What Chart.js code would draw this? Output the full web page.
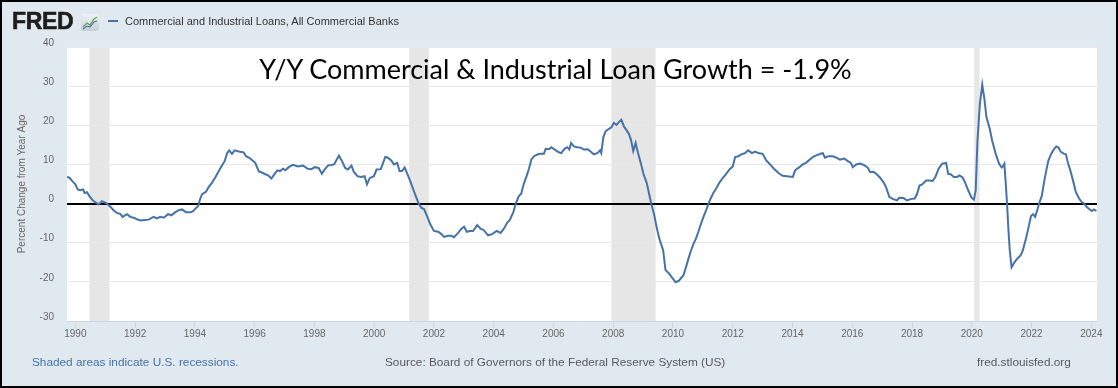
<!DOCTYPE html>
<html lang="en">
<head>
<meta charset="UTF-8">
<title>Commercial and Industrial Loans, All Commercial Banks</title>
<script src="https://cdn.jsdelivr.net/npm/chart.js"></script>
<style>
  body { margin: 0; }
  .frame { position: relative; width: 1118px; height: 388px; background: #e1e9f0; overflow: hidden;
           font-family: "Liberation Sans", Arial, sans-serif; }
  .frame canvas { position: absolute; left: 0; top: 0; }
  .border { position: absolute; left: 0; top: 0; width: 1118px; height: 388px; box-sizing: border-box;
            border: 2px solid #000; pointer-events: none; }
  .logo { position: absolute; left: 12px; top: 10px; font-size: 23px; line-height: 23px; font-weight: bold;
          color: #1d1d1b; letter-spacing: -0.3px; -webkit-text-stroke: 0.6px #1d1d1b; }
  .icon { position: absolute; left: 81px; top: 14px; }
  .legend-line { position: absolute; left: 108px; top: 20px; width: 10px; height: 2px; background: #4572a7; }
  .legend-text { position: absolute; left: 125px; top: 15px; font-size: 11px; line-height: 13px; color: #333; }
  .headline { position: absolute; left: 0; top: 55px; width: 1111px; text-align: center;
              font-family: Lato, "Open Sans", sans-serif; font-size: 27px; line-height: 27px; color: #000; }
  .foot { position: absolute; top: 355px; font-size: 11.8px; line-height: 14px; color: #595959; }
</style>
</head>
<body>
<div class="frame">
  <canvas id="loanChart" width="1118" height="388"></canvas>
  <div class="logo">FRED</div>
  <svg class="icon" width="18" height="17" viewBox="0 0 18 17">
    <defs>
      <linearGradient id="ig" x1="0" y1="0" x2="0" y2="1">
        <stop offset="0" stop-color="#eef1f4"/>
        <stop offset="1" stop-color="#c5ced8"/>
      </linearGradient>
    </defs>
    <rect x="0" y="0" width="18" height="17" rx="2" fill="url(#ig)"/>
    <polyline points="2,13 6,9 9,11 13,5 16,3" fill="none" stroke="#6aa84f" stroke-width="1.3"/>
    <polyline points="2,15 6,12 9,13 13,8 16,7" fill="none" stroke="#4572a7" stroke-width="1.1"/>
  </svg>
  <div class="legend-line"></div>
  <div class="legend-text">Commercial and Industrial Loans, All Commercial Banks</div>
  <div class="headline">Y/Y Commercial &amp; Industrial Loan Growth = -1.9%</div>
  <div class="foot" style="left:32px; color:#4572a7;">Shaded areas indicate U.S. recessions.</div>
  <div class="foot" style="left:385px;">Source: Board of Governors of the Federal Reserve System (US)</div>
  <div class="foot" style="left:977px;">fred.stlouisfed.org</div>
  <div class="border"></div>
</div>

<script>
// Percent change from year ago (decimal year -> %)
const years = [
  1989.72, 1989.80, 1989.89, 1990.00, 1990.08, 1990.17, 1990.26, 1990.31, 1990.39, 1990.47,
  1990.56, 1990.67, 1990.78, 1990.89, 1990.98, 1991.06, 1991.17, 1991.28, 1991.39, 1991.51,
  1991.58, 1991.73, 1991.84, 1991.95, 1992.06, 1992.18, 1992.32, 1992.45, 1992.62, 1992.73,
  1992.84, 1992.96, 1993.10, 1993.21, 1993.35, 1993.46, 1993.57, 1993.70, 1993.85, 1993.93,
  1994.02, 1994.11, 1994.18, 1994.24, 1994.37, 1994.46, 1994.57, 1994.69, 1994.80, 1994.91,
  1995.00, 1995.08, 1995.15, 1995.24, 1995.33, 1995.47, 1995.63, 1995.71, 1995.82, 1995.93,
  1996.02, 1996.14, 1996.22, 1996.36,
  1996.45, 1996.56, 1996.67, 1996.76, 1996.85, 1996.95, 1997.03, 1997.14, 1997.28, 1997.45,
  1997.62, 1997.78, 1997.90, 1998.01, 1998.14, 1998.25, 1998.34, 1998.45, 1998.66, 1998.73,
  1998.82, 1998.92, 1999.03, 1999.12, 1999.24, 1999.32, 1999.44, 1999.55, 1999.68, 1999.76,
  1999.85, 1999.99, 2000.08, 2000.22, 2000.29, 2000.37, 2000.46, 2000.57, 2000.66, 2000.77,
  2000.85, 2000.93, 2001.02, 2001.11, 2001.22, 2001.31, 2001.41, 2001.49, 2001.58, 2001.67,
  2001.78, 2001.89, 2002.00, 2002.14, 2002.25, 2002.34, 2002.47, 2002.58, 2002.67, 2002.81,
  2002.92, 2003.01, 2003.10, 2003.20, 2003.31,
  2003.45, 2003.56, 2003.67, 2003.81, 2003.95, 2004.10, 2004.23, 2004.34, 2004.45, 2004.54,
  2004.66, 2004.74, 2004.84, 2004.92, 2005.01, 2005.10, 2005.18, 2005.26, 2005.35, 2005.48,
  2005.57, 2005.68, 2005.74, 2005.85, 2005.93, 2006.04, 2006.18, 2006.26, 2006.37, 2006.46,
  2006.53, 2006.59, 2006.68, 2006.79, 2006.91, 2007.02, 2007.15, 2007.26, 2007.35, 2007.47,
  2007.56, 2007.60, 2007.67, 2007.75, 2007.86, 2007.94, 2008.02, 2008.11, 2008.19, 2008.27,
  2008.36, 2008.45, 2008.53, 2008.60, 2008.67, 2008.75, 2008.83, 2008.92, 2009.01, 2009.12,
  2009.20, 2009.27, 2009.36, 2009.45, 2009.54, 2009.67, 2009.75, 2009.86, 2009.97, 2010.09,
  2010.20,
  2010.35, 2010.44, 2010.52, 2010.59, 2010.68, 2010.77, 2010.85, 2010.93, 2011.02, 2011.11,
  2011.19, 2011.26, 2011.35, 2011.44, 2011.55, 2011.67, 2011.78, 2011.89, 2012.00, 2012.08,
  2012.19, 2012.30, 2012.41, 2012.52, 2012.64, 2012.75, 2012.86, 2013.00, 2013.12, 2013.25,
  2013.38, 2013.53, 2013.67, 2013.81, 2014.01, 2014.09, 2014.23, 2014.34, 2014.45, 2014.57,
  2014.68, 2014.79, 2014.90, 2015.01, 2015.09, 2015.20, 2015.35, 2015.48, 2015.59, 2015.73,
  2015.84, 2015.95, 2016.02, 2016.13, 2016.26, 2016.40, 2016.51, 2016.60, 2016.71, 2016.82,
  2016.93, 2017.04, 2017.13,
  2017.24, 2017.35, 2017.50, 2017.57, 2017.72, 2017.83, 2017.98, 2018.09, 2018.17, 2018.25,
  2018.34, 2018.47, 2018.58, 2018.69, 2018.78, 2018.89, 2019.01, 2019.14, 2019.21, 2019.29,
  2019.40, 2019.51, 2019.59, 2019.70, 2019.79, 2019.88, 2019.99, 2020.07, 2020.13, 2020.19,
  2020.27, 2020.35, 2020.42, 2020.49, 2020.60, 2020.68, 2020.80, 2020.91, 2021.00, 2021.04,
  2021.09, 2021.13, 2021.18, 2021.22, 2021.27, 2021.33, 2021.42, 2021.52, 2021.64, 2021.71,
  2021.80, 2021.89, 2021.98, 2022.05, 2022.12, 2022.19, 2022.27, 2022.34, 2022.41, 2022.47,
  2022.56, 2022.65, 2022.75, 2022.83, 2022.90, 2022.98, 2023.09, 2023.15, 2023.21, 2023.31,
  2023.39, 2023.48, 2023.59, 2023.68, 2023.76, 2023.84, 2023.95, 2024.02, 2024.09, 2024.17
];
const loanGrowth = [
  6.8, 6.6, 5.8, 4.9, 3.6, 3.4, 3.6, 2.7, 2.9, 1.9,
  1.0, 0.3, -0.2, 0.6, 0.3, 0.0, -0.8, -1.7, -2.4, -2.7,
  -3.4, -2.7, -3.4, -3.6, -4.0, -4.3, -4.2, -4.1, -3.4, -3.8,
  -3.4, -3.6, -2.7, -3.0, -2.2, -1.7, -1.5, -2.2, -2.2, -2.0,
  -1.3, -0.6, 1.3, 2.4, 3.0, 4.2, 5.3, 6.8, 8.3, 9.8,
  10.9, 12.9, 13.6, 12.7, 13.6, 13.3, 13.1, 12.1, 11.7, 11.0,
  10.4, 8.2, 8.0, 7.5,
  7.2, 6.4, 7.6, 8.5, 8.3, 8.9, 8.5, 9.3, 9.9, 9.5,
  9.7, 8.9, 8.8, 9.3, 9.1, 7.6, 8.7, 9.7, 10.0, 11.0,
  12.2, 10.9, 9.1, 8.7, 9.7, 8.1, 7.0, 6.8, 7.0, 4.9,
  6.5, 7.0, 8.7, 8.8, 10.2, 11.9, 11.7, 11.0, 10.0, 10.4,
  8.3, 8.3, 9.2, 7.6, 5.5, 3.6, 1.5, 0.0, -1.1, -1.4,
  -3.4, -5.5, -7.0, -7.2, -7.8, -8.5, -8.2, -8.2, -8.6, -7.5,
  -6.4, -5.9, -7.2, -7.0, -7.0,
  -5.5, -6.4, -6.8, -8.1, -7.8, -7.0, -7.5, -6.4, -4.9, -4.2,
  -2.1, 0.0, 1.9, 2.5, 5.1, 7.0, 8.9, 11.2, 12.1, 12.6,
  12.7, 12.7, 14.0, 13.9, 14.4, 13.8, 13.1, 12.9, 14.0, 14.4,
  13.8, 15.5, 14.6, 14.4, 14.3, 13.8, 13.9, 13.2, 12.6, 12.9,
  13.6, 12.9, 17.0, 18.5, 19.1, 19.5, 20.6, 20.1, 20.8, 21.4,
  19.7, 18.7, 17.7, 16.1, 13.4, 15.5, 12.9, 10.4, 7.6, 5.3,
  2.5, 0.0, -2.5, -5.9, -8.9, -11.9, -17.0, -17.8, -18.9, -20.1,
  -19.7,
  -18.3, -16.1, -14.0, -12.3, -10.4, -8.9, -7.2, -5.3, -3.4, -1.7,
  0.0, 1.3, 2.7, 3.8, 5.3, 6.6, 7.6, 8.7, 9.5, 11.9,
  12.1, 12.6, 12.9, 13.6, 12.9, 13.3, 12.9, 12.7, 11.0, 10.0,
  8.9, 7.8, 7.1, 7.0, 6.8, 8.5, 9.3, 10.0, 10.4, 11.2,
  11.9, 12.3, 12.6, 12.9, 11.7, 12.1, 12.1, 11.7, 11.2, 11.5,
  10.9, 10.4, 9.3, 10.0, 10.2, 9.8, 9.2, 8.0, 8.1, 7.5,
  6.6, 5.5, 4.2,
  1.7, 1.2, 0.8, 1.5, 1.4, 0.8, 1.2, 1.3, 2.5, 4.6,
  4.9, 5.9, 5.9, 5.8, 6.8, 8.9, 10.2, 10.4, 7.6, 7.5,
  6.8, 6.8, 7.2, 6.6, 5.1, 3.4, 1.5, 1.0, 3.4, 16.1,
  25.5, 30.4, 26.8, 22.1, 19.1, 16.1, 12.7, 10.2, 9.2, 9.5,
  10.2, 5.9, 0.0, -5.9, -11.9, -16.3, -15.1, -14.1, -13.2, -11.9,
  -9.3, -6.4, -3.2, -2.7, -3.4, -1.7, 0.4, 1.9, 5.1, 7.6,
  10.9, 12.6, 13.9, 14.6, 14.3, 13.2, 12.7, 12.6, 10.6, 8.1,
  5.8, 3.0, 1.3, 0.4, 0.0, -0.8, -1.5, -1.9, -1.5, -1.9
];

// US recessions (shaded)
const recStart = [1990.47, 2001.17, 2007.94, 2020.08];
const recEnd = [1991.14, 2001.83, 2009.42, 2020.26];

const tickYears = [1990, 1992, 1994, 1996, 1998, 2000, 2002, 2004, 2006, 2008,
                   2010, 2012, 2014, 2016, 2018, 2020, 2022, 2024];
const yTicks = [-30, -20, -10, 0, 10, 20, 30, 40];

const axisFont = { family: '"Liberation Sans", Arial, sans-serif', size: 10 };

// white plot background + recession bars, under the grid
const recessionShading = {
  id: 'recessionShading',
  beforeDraw(chart) {
    const { ctx, chartArea: a, scales: { x } } = chart;
    ctx.save();
    ctx.fillStyle = '#ffffff';
    ctx.fillRect(a.left, a.top, a.right - a.left, a.bottom - a.top);
    ctx.fillStyle = '#e6e6e6';
    recStart.forEach((s, i) => {
      const x0 = x.getPixelForValue(s);
      const x1 = x.getPixelForValue(recEnd[i]);
      ctx.fillRect(x0, a.top, x1 - x0, a.bottom - a.top);
    });
    ctx.restore();
  }
};

new Chart(document.getElementById('loanChart'), {
  type: 'line',
  data: {
    datasets: [{
      label: 'Commercial and Industrial Loans, All Commercial Banks',
      data: years.map((y, i) => ({ x: y, y: loanGrowth[i] })),
      borderColor: '#4572a7',
      borderWidth: 2,
      pointRadius: 0,
      tension: 0,
      fill: false
    }]
  },
  options: {
    responsive: false,
    animation: false,
    layout: { padding: { left: 0, top: 47, right: 21, bottom: 42 } },
    plugins: { legend: { display: false }, tooltip: { enabled: false } },
    scales: {
      x: {
        type: 'linear',
        min: 1989.72,
        max: 2024.19,
        afterBuildTicks: s => { s.ticks = tickYears.map(v => ({ value: v })); },
        afterFit: s => { s.height = 25; },
        grid: { drawOnChartArea: false, drawTicks: true, tickLength: 7, color: '#ccd6eb' },
        border: { color: '#ccd6eb' },
        ticks: { autoSkip: false, maxRotation: 0, padding: 0, color: '#666', font: axisFont,
                 callback: v => String(v) }
      },
      y: {
        min: -30,
        max: 40,
        afterBuildTicks: s => { s.ticks = yTicks.map(v => ({ value: v })); },
        afterFit: s => { s.width = 67; },
        grid: {
          drawTicks: false,
          color: c => c.tick && c.tick.value === 0 ? '#000' : '#e8e8e8',
          lineWidth: c => c.tick && c.tick.value === 0 ? 2 : 1
        },
        border: { display: false },
        ticks: { padding: 13, labelOffset: -4, color: '#666', font: axisFont },
        title: { display: true, text: 'Percent Change from Year Ago', color: '#666',
                 font: axisFont, padding: { top: 16, bottom: 0 } }
      }
    }
  },
  plugins: [recessionShading]
});
</script>
</body>
</html>
